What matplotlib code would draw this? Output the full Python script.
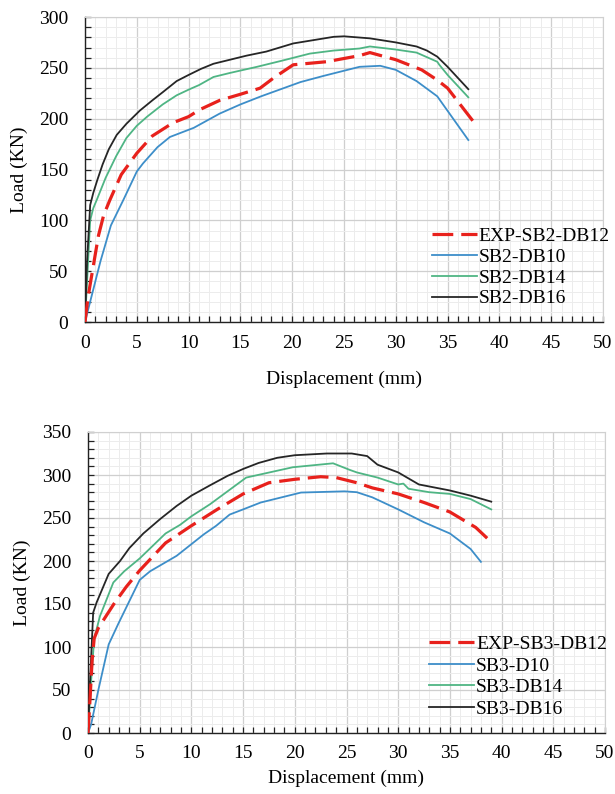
import matplotlib
matplotlib.use("Agg")
import matplotlib.pyplot as plt
from matplotlib.ticker import MultipleLocator

plt.rcParams['font.family'] = ['Liberation Serif', 'DejaVu Serif']

# ---- SB2 (top chart) ----
sb2_exp_x = [0, 0.3, 0.8, 1.3, 1.8, 2.4, 3.5, 5, 6.5, 8.5, 10, 11.1, 13, 15, 16.9, 18.2, 20.1, 23.3, 26.5, 27.5, 30, 32.5, 34, 35, 37.5]
sb2_exp_y = [0, 25, 55, 85, 105, 120, 145, 166, 183, 196, 202, 209, 218, 224, 230, 240, 253, 256, 262, 265, 258, 248, 238, 230, 197]

sb2_db10_x = [0, 0.5, 1.5, 2.5, 3.7, 5, 5.6, 7, 8.2, 10.5, 13, 15, 17, 20.8, 23, 26.5, 28.5, 30, 32, 34, 37]
sb2_db10_y = [0, 20, 60, 95, 120, 148, 156, 172, 182, 191, 205, 214, 222, 236, 242, 251, 252, 248, 237, 222, 179]

sb2_db14_x = [0, 0.2, 0.5, 0.8, 1.13, 2, 3, 4, 5, 6, 7.5, 8.85, 10.1, 11, 12.4, 14, 16.6, 19, 21.7, 24, 26.5, 27.5, 30, 32, 34, 34.2, 35, 37]
sb2_db14_y = [0, 40, 100, 112, 120, 142, 163, 181, 193, 202, 214, 223, 229, 233, 241, 245, 251, 257, 264, 267, 269, 271, 268, 265, 256, 253, 243, 221]

sb2_db16_x = [0, 0.2, 0.5, 0.8, 1.2, 1.7, 2.3, 3.06, 4, 5.3, 6.5, 7.5, 8.85, 10, 11.2, 12.4, 14, 15.6, 17.5, 20.1, 22.5, 24, 25, 27.5, 30, 32, 33, 34, 35, 37]
sb2_db16_y = [0, 60, 115, 127, 140, 155, 170, 184, 195, 208, 218, 226, 237, 243, 249, 254, 258, 262, 266, 274, 278, 280.5, 281, 279, 275, 271, 267, 261, 251, 229]

# ---- SB3 (bottom chart) ----
sb3_exp_x = [0, 0.2, 0.4, 0.6, 1, 1.64, 2.5, 3.7, 5, 7.5, 10, 12.5, 15, 17.5, 20, 22.5, 24, 26, 27.5, 30, 32.5, 35, 37.5, 39]
sb3_exp_y = [0, 40, 85, 110, 122, 134, 150, 170, 189, 221, 241, 260, 278, 291, 295, 298, 297, 291, 285, 278, 268, 257, 239, 222]

sb3_d10_x = [0, 0.3, 1, 2, 2.93, 5, 6, 8.57, 11.2, 12.4, 13.7, 15, 16.7, 20.6, 24.8, 26, 27.5, 30, 32.5, 35, 37, 38]
sb3_d10_y = [0, 10, 50, 103, 127, 178, 188, 206, 231, 241, 254, 260, 268, 279.6, 281, 280, 274, 260, 245, 232, 214, 199]

sb3_db14_x = [0, 0.3, 0.6, 1.16, 2.45, 3.5, 5, 7.5, 8.9, 10, 11.8, 15.3, 19.8, 23.7, 25.3, 26, 28, 30, 30.5, 31, 33, 35, 37, 39]
sb3_db14_y = [0, 60, 110, 136, 175, 188, 203, 232, 242, 252, 266, 297, 309, 313.6, 306, 303, 297, 289, 290, 284, 280, 278, 272, 260]

sb3_db16_x = [0, 0.2, 0.5, 0.84, 2, 3.1, 4, 5.35, 7, 8.57, 10, 11.8, 13.5, 15, 16.5, 18.3, 20, 23.1, 25.5, 27, 28, 30, 32, 35, 37, 39]
sb3_db16_y = [0, 60, 140, 152, 185, 200, 215, 232, 249, 264, 276, 288, 299, 307, 314, 320, 323, 325, 325, 322, 312, 303, 289, 282, 276, 269]

red = '#e8211c'
blue = '#3d8ec9'
green = '#4fb584'
black = '#262626'


def style_axes(ax, ymax, xpad):
    ax.set_xlim(0, 50)
    ax.set_ylim(0, ymax)
    ax.xaxis.set_major_locator(MultipleLocator(5))
    ax.xaxis.set_minor_locator(MultipleLocator(1))
    ax.yaxis.set_major_locator(MultipleLocator(50))
    ax.yaxis.set_minor_locator(MultipleLocator(10))
    ax.grid(which='major', color='#cfcfcf', lw=0.9)
    ax.grid(which='minor', color='#ececec', lw=0.7)
    ax.set_axisbelow(True)
    ax.tick_params(which='both', direction='in', length=4, width=0.9, labelsize=14,
                   color='#222222')
    ax.tick_params(axis='x', which='both', pad=9)
    ax.tick_params(axis='y', which='both', pad=12)
    for s in ['top', 'right']:
        ax.spines[s].set_color('#d0d0d0')
    for s in ['left', 'bottom']:
        ax.spines[s].set_color('#222222')
        ax.spines[s].set_linewidth(1.0)
    ax.set_xlabel('Displacement (mm)', fontsize=14, labelpad=xpad)
    ax.set_ylabel('Load (KN)', fontsize=14, labelpad=8)


fig = plt.figure(figsize=(6.15, 7.94), dpi=100)

ax1 = fig.add_axes([85 / 615, 1 - 322 / 794, 518 / 615, 305 / 794])
ax1.plot(sb2_exp_x, sb2_exp_y, color=red, lw=2.3, dashes=(6.5, 2.5), label='EXP-SB2-DB12', zorder=4)
ax1.plot(sb2_db10_x, sb2_db10_y, color=blue, lw=1.3, label='SB2-DB10')
ax1.plot(sb2_db14_x, sb2_db14_y, color=green, lw=1.3, label='SB2-DB14')
ax1.plot(sb2_db16_x, sb2_db16_y, color=black, lw=1.3, label='SB2-DB16')
style_axes(ax1, 300, 14)
ax1.legend(loc='upper left', bbox_to_anchor=(0.655, 0.335), frameon=False, fontsize=14,
           handlelength=2.3, handletextpad=0.1, labelspacing=0.16, borderaxespad=0)

ax2 = fig.add_axes([88 / 615, 1 - 733 / 794, 517 / 615, 301 / 794])
ax2.plot(sb3_exp_x, sb3_exp_y, color=red, lw=2.3, dashes=(6.5, 2.5), label='EXP-SB3-DB12', zorder=4)
ax2.plot(sb3_d10_x, sb3_d10_y, color=blue, lw=1.3, label='SB3-D10')
ax2.plot(sb3_db14_x, sb3_db14_y, color=green, lw=1.3, label='SB3-DB14')
ax2.plot(sb3_db16_x, sb3_db16_y, color=black, lw=1.3, label='SB3-DB16')
style_axes(ax2, 350, 5)
ax2.legend(loc='upper left', bbox_to_anchor=(0.645, 0.35), frameon=False, fontsize=14,
           handlelength=2.3, handletextpad=0.1, labelspacing=0.2, borderaxespad=0)

fig.savefig('out.png', dpi=100)
